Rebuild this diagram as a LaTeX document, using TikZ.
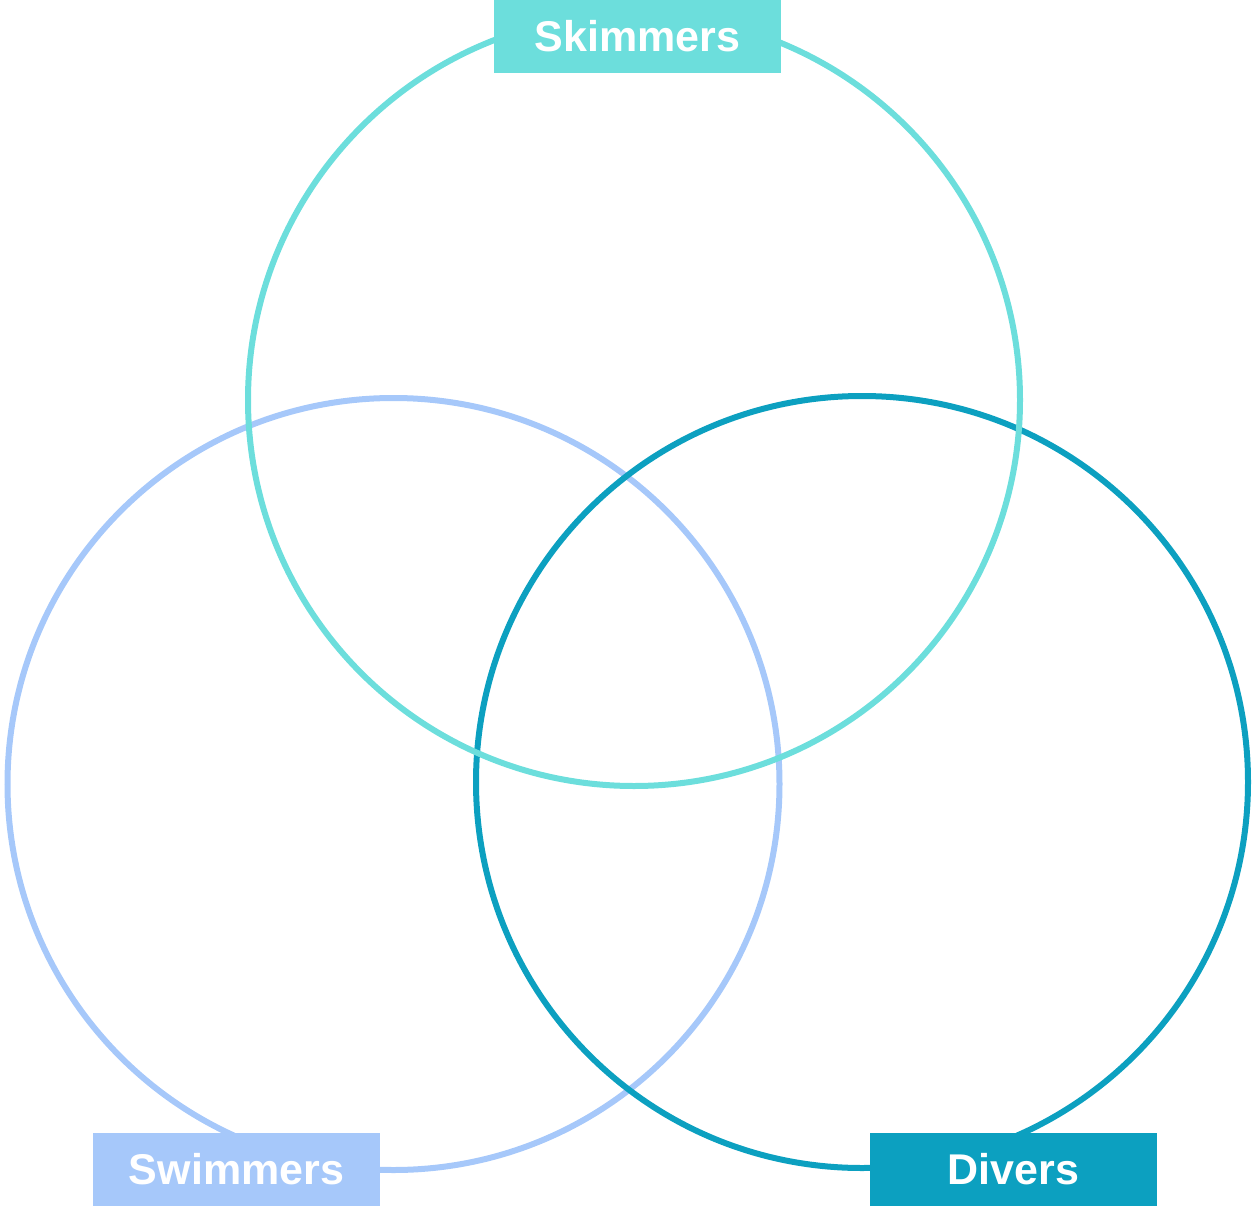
\documentclass[tikz,border=0pt]{standalone}
\usepackage{fontspec}
\setmainfont{Liberation Sans}
\usepackage{xcolor}
\definecolor{skimcol}{HTML}{6CDEDC}
\definecolor{swimcol}{HTML}{A6C8FA}
\definecolor{divecol}{HTML}{0CA0C0}
\newcommand{\tag}[1]{\textbf{#1}}

\begin{document}
\begin{tikzpicture}[x=1pt,y=-1pt,
    ring/.style={draw=#1, line width=6pt, circle, minimum size=772pt, inner sep=0pt},
    tagbox/.style={fill=#1, text=white, minimum width=287pt, minimum height=73pt,
      inner sep=0pt, font=\fontsize{43}{50}\selectfont}]
    \useasboundingbox (0,0) rectangle (1253,1207);
    \node[ring=swimcol] (swim-ring) at (393.5,784) {};
    \node[ring=divecol] (dive-ring) at (862,782) {};
    \node[ring=skimcol] (skim-ring) at (634,400) {};
    \node[tagbox=skimcol] (skim) at (637.5,36.5)  {\tag{Skimmers}};
    \node[tagbox=swimcol] (swim) at (236.5,1169.5) {\tag{Swimmers}};
    \node[tagbox=divecol] (dive) at (1013.5,1169.5) {\tag{Divers}};
  \end{tikzpicture}
\end{document}
